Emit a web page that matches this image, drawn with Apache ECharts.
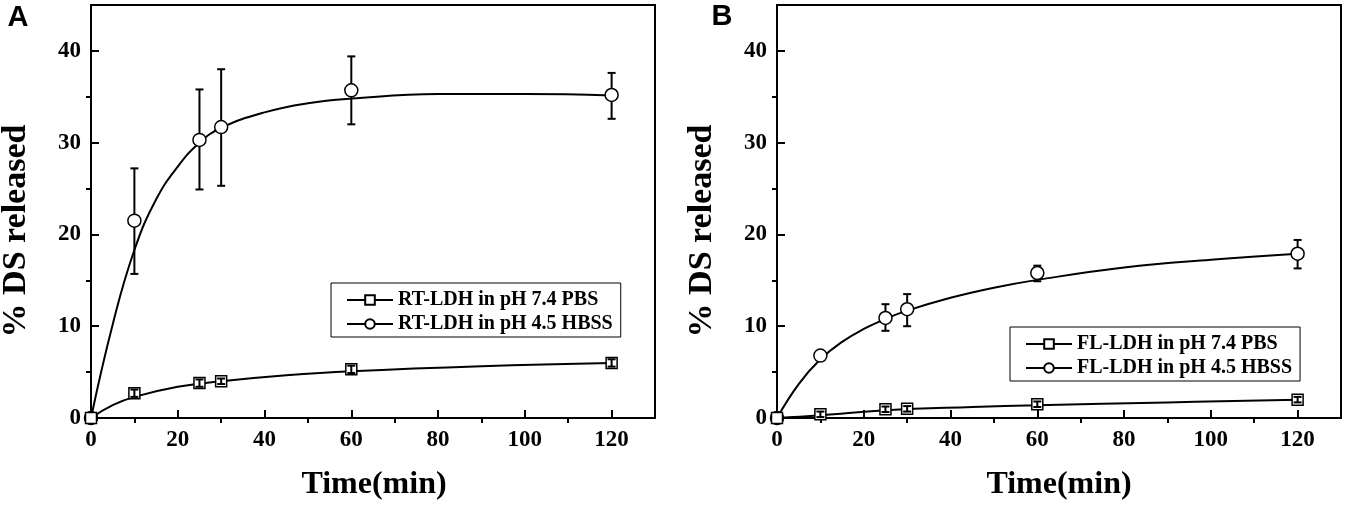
<!DOCTYPE html>
<html>
<head>
<meta charset="utf-8">
<script src="https://cdn.jsdelivr.net/npm/echarts@6/dist/echarts.min.js"></script>
<style>
html,body{margin:0;padding:0;background:#fff;}
#main{width:1351px;height:511px;}
</style>
</head>
<body>
<div id="main"></div>
<script>
// 采样时间(min)
var timeMin = [0, 10, 25, 30, 60, 120];
// 刻度
var xMajor = [0, 20, 40, 60, 80, 100, 120];
var xMinor = [10, 30, 50, 70, 90, 110];
var yMajor = [0, 10, 20, 30, 40];
var yMinor = [5, 15, 25, 35];

// A: RT-LDH
var rtPbs = [0, 2.7, 3.8, 4.0, 5.3, 6.0];
var rtPbsLow = [0, 2.3, 3.4, 3.7, 4.9, 5.6];
var rtPbsHigh = [0, 3.1, 4.2, 4.3, 5.7, 6.4];
var rtHbss = [0, 21.5, 30.3, 31.7, 35.7, 35.2];
var rtHbssLow = [0, 15.7, 24.9, 25.3, 32.0, 32.6];
var rtHbssHigh = [0, 27.2, 35.8, 38.0, 39.4, 37.6];
// 拟合曲线
var rtPbsFitX = [0, 5, 10, 20, 30, 45, 60, 90, 120];
var rtPbsFitY = [0, 1.4, 2.3, 3.4, 4.0, 4.65, 5.1, 5.65, 6.0];
var rtHbssFitX = [0, 5, 10, 15, 20, 25, 30, 40, 50, 60, 80, 100, 120];
var rtHbssFitY = [0, 10.2, 18.3, 23.8, 27.4, 30.0, 31.6, 33.3, 34.3, 34.8, 35.3, 35.3, 35.15];

// B: FL-LDH
var flPbs = [0, 0.4, 0.95, 1.0, 1.5, 2.0];
var flPbsLow = [0, 0.1, 0.65, 0.7, 1.2, 1.7];
var flPbsHigh = [0, 0.7, 1.25, 1.3, 1.8, 2.3];
var flHbss = [0, 6.8, 10.9, 11.85, 15.8, 17.9];
var flHbssLow = [0, 6.3, 9.5, 10.0, 14.9, 16.3];
var flHbssHigh = [0, 7.3, 12.4, 13.5, 16.6, 19.4];
var flPbsFitX = [0, 10, 25, 45, 60, 90, 120];
var flPbsFitY = [0, 0.3, 0.85, 1.2, 1.38, 1.7, 2.0];
var flHbssFitX = [0, 5, 10, 15, 20, 25, 30, 40, 50, 60, 80, 100, 120];
var flHbssFitY = [0, 3.7, 6.4, 8.3, 9.7, 10.8, 11.7, 13.1, 14.2, 15.05, 16.4, 17.25, 17.9];

var SERIF = '"Liberation Serif", "Times New Roman", serif';
var SANS = '"Liberation Sans", Arial, sans-serif';

function pairs(xs, ys){
    var out = [];
    for (var i = 0; i < xs.length; i++) out.push([xs[i], ys[i]]);
    return out;
}
function errPairs(xs, lo, hi){
    var out = [];
    for (var i = 1; i < xs.length; i++) out.push([xs[i], lo[i], hi[i]]);
    return out;
}

// 误差棒
function errRender(params, api){
    var x = api.value(0);
    var p1 = api.coord([x, api.value(1)]);
    var p2 = api.coord([x, api.value(2)]);
    var cap = 4;
    var st = {stroke: '#000', lineWidth: 2};
    return {
        type: 'group',
        children: [
            {type: 'line', shape: {x1: p1[0], y1: p1[1], x2: p2[0], y2: p2[1]}, style: st},
            {type: 'line', shape: {x1: p1[0] - cap, y1: p1[1], x2: p1[0] + cap, y2: p1[1]}, style: st},
            {type: 'line', shape: {x1: p2[0] - cap, y1: p2[1], x2: p2[0] + cap, y2: p2[1]}, style: st}
        ]
    };
}

var grids = [
    {left: 91, top: 5, width: 564, height: 413},
    {left: 777, top: 5, width: 564, height: 413}
];

var xAxes = [], yAxes = [];
for (var g = 0; g < 2; g++){
    // 主刻度
    xAxes.push({
        type: 'value', gridIndex: g, min: 0, max: 130,
        axisLine: {show: true, lineStyle: {color: '#000', width: 2}},
        axisTick: {show: true, inside: true, length: 8, customValues: xMajor, lineStyle: {color: '#000', width: 2}},
        axisLabel: {show: true, customValues: xMajor, margin: 11, color: '#000', fontFamily: SERIF, fontWeight: 'bold', fontSize: 23},
        splitLine: {show: false}
    });
    // 次刻度
    xAxes.push({
        type: 'value', gridIndex: g, min: 0, max: 130,
        axisLine: {show: false},
        axisTick: {show: true, inside: true, length: 5, customValues: xMinor, lineStyle: {color: '#000', width: 2}},
        axisLabel: {show: false},
        splitLine: {show: false}
    });
    yAxes.push({
        type: 'value', gridIndex: g, min: 0, max: 45,
        axisLine: {show: true, lineStyle: {color: '#000', width: 2}},
        axisTick: {show: true, inside: true, length: 8, customValues: yMajor, lineStyle: {color: '#000', width: 2}},
        axisLabel: {show: true, customValues: yMajor, margin: 10, color: '#000', fontFamily: SERIF, fontWeight: 'bold', fontSize: 23},
        splitLine: {show: false}
    });
    yAxes.push({
        type: 'value', gridIndex: g, min: 0, max: 45,
        axisLine: {show: false},
        axisTick: {show: true, inside: true, length: 5, customValues: yMinor, lineStyle: {color: '#000', width: 2}},
        axisLabel: {show: false},
        splitLine: {show: false}
    });
}

function panelSeries(g, nPbs, nHbss, pbsFit, hbssFit, pbs, hbss, pbsErr, hbssErr){
    var xi = g * 2, yi = g * 2;
    var mark = {color: '#fff', borderColor: '#000', borderWidth: 1.5, opacity: 1};
    return [
        {name: nPbs, type: 'line', xAxisIndex: xi, yAxisIndex: yi, data: pbsFit, smooth: 0.45,
            showSymbol: false, symbol: 'rect', symbolSize: 10, itemStyle: mark, lineStyle: {color: '#000', width: 2}, z: 2, silent: true},
        {name: nHbss, type: 'line', xAxisIndex: xi, yAxisIndex: yi, data: hbssFit, smooth: 0.45,
            showSymbol: false, symbol: 'circle', symbolSize: 11, itemStyle: mark, lineStyle: {color: '#000', width: 2}, z: 2, silent: true},
        {type: 'custom', xAxisIndex: xi, yAxisIndex: yi, data: hbssErr, renderItem: errRender, z: 3, silent: true},
        {type: 'scatter', xAxisIndex: xi, yAxisIndex: yi, data: hbss, symbol: 'circle', symbolSize: 13, itemStyle: mark, z: 4, silent: true},
        {type: 'scatter', xAxisIndex: xi, yAxisIndex: yi, data: pbs, symbol: 'rect', symbolSize: 11, itemStyle: mark, z: 4, silent: true},
        {type: 'custom', xAxisIndex: xi, yAxisIndex: yi, data: pbsErr, renderItem: errRender, z: 5, silent: true}
    ];
}

var series = [].concat(
    panelSeries(0, 'RT-LDH in pH 7.4 PBS', 'RT-LDH in pH 4.5 HBSS',
        pairs(rtPbsFitX, rtPbsFitY), pairs(rtHbssFitX, rtHbssFitY),
        pairs(timeMin, rtPbs), pairs(timeMin, rtHbss),
        errPairs(timeMin, rtPbsLow, rtPbsHigh), errPairs(timeMin, rtHbssLow, rtHbssHigh)),
    panelSeries(1, 'FL-LDH in pH 7.4 PBS', 'FL-LDH in pH 4.5 HBSS',
        pairs(flPbsFitX, flPbsFitY), pairs(flHbssFitX, flHbssFitY),
        pairs(timeMin, flPbs), pairs(timeMin, flHbss),
        errPairs(timeMin, flPbsLow, flPbsHigh), errPairs(timeMin, flHbssLow, flHbssHigh))
);

function legendOpt(names, left, top){
    return {
        data: names, orient: 'vertical', left: left, top: top,
        itemWidth: 46, itemHeight: 12, itemGap: 4,
        padding: [7, 8, 3, 15],
        borderColor: '#000', borderWidth: 1, backgroundColor: '#fff',
        textStyle: {color: '#000', fontFamily: SERIF, fontWeight: 'bold', fontSize: 20, lineHeight: 20},
        selectedMode: false
    };
}

function txt(x, y, s, font, size, rot){
    return {type: 'text', x: x, y: y, rotation: rot || 0, z: 10,
        style: {text: s, fill: '#000', font: 'bold ' + size + 'px ' + font, textAlign: 'center', textVerticalAlign: 'middle'}};
}

var chart = echarts.init(document.getElementById('main'), null, {renderer: 'canvas'});
chart.setOption({
    animation: false,
    backgroundColor: '#fff',
    grid: grids.map(function(r){ return {left: r.left, top: r.top, width: r.width, height: r.height, show: true, borderColor: '#000', borderWidth: 2}; }),
    xAxis: xAxes,
    yAxis: yAxes,
    legend: [
        legendOpt(['RT-LDH in pH 7.4 PBS', 'RT-LDH in pH 4.5 HBSS'], 331, 283),
        legendOpt(['FL-LDH in pH 7.4 PBS', 'FL-LDH in pH 4.5 HBSS'], 1010, 327)
    ],
    series: series,
    graphic: [
        txt(18, 18, 'A', SANS, 29),
        txt(722, 17, 'B', SANS, 29),
        txt(374, 485, 'Time(min)', SERIF, 32),
        txt(1059, 485, 'Time(min)', SERIF, 32),
        txt(16, 231, '% DS released', SERIF, 34, Math.PI / 2),
        txt(702, 231, '% DS released', SERIF, 34, Math.PI / 2)
    ]
});
</script>
</body>
</html>
